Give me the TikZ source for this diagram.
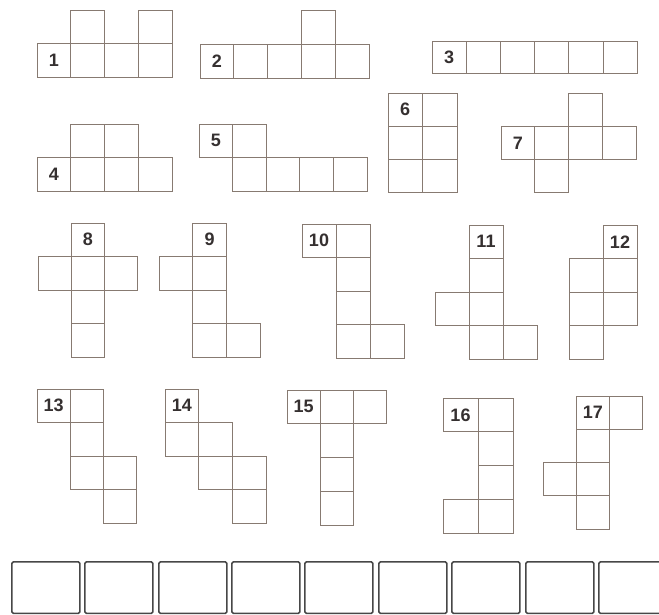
\documentclass[tikz,border=0pt]{standalone}
\usepackage{fontspec}
\setmainfont{Liberation Sans}
\definecolor{gridline}{HTML}{877A71}
\definecolor{labeltext}{HTML}{353030}
\definecolor{boxline}{HTML}{474747}
\tikzset{
  cellbox/.style={draw=gridline, line width=0.9pt, rectangle, inner sep=0pt, outer sep=0pt,
    text=labeltext, font=\bfseries\fontsize{18}{18}\selectfont},
  answerbox/.style={draw=boxline, line width=1.7pt, rectangle, rounded corners=1.5pt,
    inner sep=0pt, minimum width=68pt, minimum height=51.5pt, anchor=north west}
}
\newcommand{\drawshape}[6]{%
  \foreach \c/\r/\t [count=\k] in {#6} {
    \node[cellbox, minimum width=#4pt, minimum height=#5pt] (#1-\k)
      at ({#2+(\c+0.5)*#4},{#3+(\r+0.5)*#5}) {\t};
  }}
\begin{document}
\begin{tikzpicture}[x=1pt,y=-1pt]
\useasboundingbox (0,0) rectangle (659,614);
% shape 1
\drawshape{p1}{37}{10}{33.75}{33.8}{1/0/{},3/0/{},0/1/1,1/1/{},2/1/{},3/1/{}}
% shape 2
\drawshape{p2}{200}{10}{33.8}{34}{3/0/{},0/1/2,1/1/{},2/1/{},3/1/{},4/1/{}}
% shape 3
\drawshape{p3}{432}{41}{34.2}{32.5}{0/0/3,1/0/{},2/0/{},3/0/{},4/0/{},5/0/{}}
% shape 4
\drawshape{p4}{37}{124}{33.75}{33.5}{1/0/{},2/0/{},0/1/4,1/1/{},2/1/{},3/1/{}}
% shape 5
\drawshape{p5}{199}{124}{33.6}{33.5}{0/0/5,1/0/{},1/1/{},2/1/{},3/1/{},4/1/{}}
% shape 6
\drawshape{p6}{388}{93}{34.5}{33}{0/0/6,1/0/{},0/1/{},1/1/{},0/2/{},1/2/{}}
% shape 7
\drawshape{p7}{501}{93}{33.75}{33.3}{2/0/{},0/1/7,1/1/{},2/1/{},3/1/{},1/2/{}}
% shape 8
\drawshape{p8}{38}{223}{33.3}{33.5}{1/0/8,0/1/{},1/1/{},2/1/{},1/2/{},1/3/{}}
% shape 9
\drawshape{p9}{159}{223}{33.7}{33.5}{1/0/9,0/1/{},1/1/{},1/2/{},1/3/{},2/3/{}}
% shape 10
\drawshape{p10}{302}{224}{34}{33.5}{0/0/10,1/0/{},1/1/{},1/2/{},1/3/{},2/3/{}}
% shape 11
\drawshape{p11}{435}{225}{34}{33.5}{1/0/11,1/1/{},0/2/{},1/2/{},1/3/{},2/3/{}}
% shape 12
\drawshape{p12}{569}{225}{34}{33.5}{1/0/12,0/1/{},1/1/{},0/2/{},1/2/{},0/3/{}}
% shape 13
\drawshape{p13}{37}{389}{33.3}{33.5}{0/0/13,1/0/{},1/1/{},1/2/{},2/2/{},2/3/{}}
% shape 14
\drawshape{p14}{165}{389}{33.7}{33.5}{0/0/14,0/1/{},1/1/{},1/2/{},2/2/{},2/3/{}}
% shape 15
\drawshape{p15}{287}{390}{33.3}{33.75}{0/0/15,1/0/{},2/0/{},1/1/{},1/2/{},1/3/{}}
% shape 16
\drawshape{p16}{443}{398}{35}{33.75}{0/0/16,1/0/{},1/1/{},1/2/{},0/3/{},1/3/{}}
% shape 17
\drawshape{p17}{543}{396}{33.3}{33.25}{1/0/17,2/0/{},1/1/{},0/2/{},1/2/{},1/3/{}}
% answer boxes
\foreach \xx [count=\k] in {11,84,158,231,304,378,451,525,598} {
  \node[answerbox] (a\k) at (\xx,561) {};
}
\end{tikzpicture}
\end{document}
